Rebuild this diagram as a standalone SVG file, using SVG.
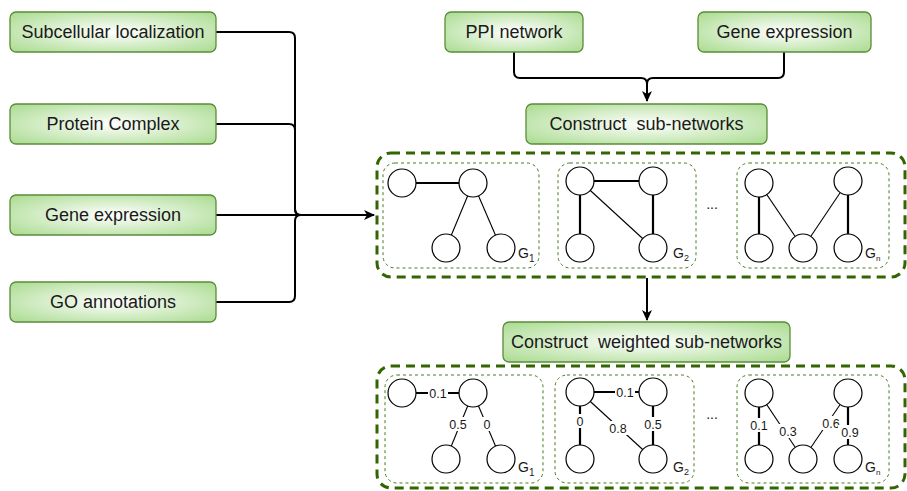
<svg xmlns="http://www.w3.org/2000/svg" width="907" height="491" viewBox="0 0 907 491">
<defs>
<radialGradient id="gf" cx="50%" cy="50%" r="70%">
<stop offset="0%" stop-color="#ffffff"/>
<stop offset="100%" stop-color="#a9db8f"/>
</radialGradient>
<marker id="arr" markerWidth="12" markerHeight="10" refX="10" refY="5" orient="auto" markerUnits="userSpaceOnUse">
<path d="M0,0 L11,5 L0,10 L3,5 Z" fill="#000"/>
</marker>
<style>
.box{fill:url(#gf);stroke:#5b8c3a;stroke-width:1.3}
.lbl{font-family:"Liberation Sans",Arial,sans-serif;font-size:18px;fill:#1a1a1a;text-anchor:middle;white-space:pre}
.outer{fill:none;stroke:#336600;stroke-width:3;stroke-dasharray:9,6}
.inner{fill:none;stroke:#4d7a1f;stroke-width:1;stroke-dasharray:3,3}
.nd{fill:#fff;stroke:#000;stroke-width:1.2}
.thick{stroke:#000;stroke-width:2.2;fill:none}
.thin{stroke:#000;stroke-width:1.1;fill:none}
.con{stroke:#000;stroke-width:2;fill:none}
.g{font-family:"Liberation Sans",Arial,sans-serif;font-size:14px;fill:#1a1a1a}
.w{font-family:"Liberation Sans",Arial,sans-serif;font-size:12.5px;fill:#1a1a1a;text-anchor:middle}
.dots{font-family:"Liberation Sans",Arial,sans-serif;font-size:14px;fill:#1a1a1a;text-anchor:middle}
</style>
</defs>
<rect width="907" height="491" fill="#fff"/>

<g id="connectors">
<path class="con" d="M216,32 H289 Q295,32 295,38 V209 Q295,215 301,215"/>
<path class="con" d="M216,124 H289 Q295,124 295,130 V209 Q295,215 301,215"/>
<path class="con" d="M216,302 H289 Q295,302 295,296 V221 Q295,215 301,215"/>
<path class="con" d="M216,215 H374" stroke-width="2.6" marker-end="url(#arr)"/>
<path class="con" d="M514,52 V72 Q514,78 520,78 H641 Q647,78 647,84 V101" marker-end="url(#arr)"/>
<path class="con" d="M784,52 V72 Q784,78 778,78 H653 Q647,78 647,84"/>
<path class="con" d="M647,278 V320" marker-end="url(#arr)"/>
</g>

<g id="n-subcell"><rect class="box" x="10" y="12" width="206" height="40" rx="6"/><text class="lbl" x="113" y="38">Subcellular localization</text></g>
<g id="n-protein"><rect class="box" x="10" y="104" width="206" height="40" rx="6"/><text class="lbl" x="113" y="130">Protein Complex</text></g>
<g id="n-geneexp-left"><rect class="box" x="10" y="195" width="206" height="40" rx="6"/><text class="lbl" x="113" y="221">Gene expression</text></g>
<g id="n-go"><rect class="box" x="10" y="282" width="206" height="40" rx="6"/><text class="lbl" x="113" y="308">GO annotations</text></g>
<g id="n-ppi"><rect class="box" x="445" y="12" width="138" height="40" rx="6"/><text class="lbl" x="514" y="38">PPI network</text></g>
<g id="n-geneexp-top"><rect class="box" x="698" y="12" width="173" height="40" rx="6"/><text class="lbl" x="784.5" y="38">Gene expression</text></g>
<g id="n-construct"><rect class="box" x="526" y="104" width="241" height="40" rx="6"/><text class="lbl" x="646.5" y="130">Construct  sub-networks</text></g>
<g id="n-weighted"><rect class="box" x="503" y="322" width="287" height="40" rx="6"/><text class="lbl" x="646.5" y="348">Construct  weighted sub-networks</text></g>

<g id="subnetworks">
<rect class="outer" x="377" y="153" width="528" height="124" rx="14"/>
<g id="sub-g1">
<rect class="inner" x="383" y="163" width="156" height="105" rx="12"/>
<line class="thick" x1="402" y1="183" x2="473" y2="183"/>
<line class="thin" x1="473" y1="183" x2="446" y2="248"/>
<line class="thin" x1="473" y1="183" x2="501" y2="248"/>
<circle class="nd" cx="402" cy="183" r="14"/><circle class="nd" cx="473" cy="183" r="14"/>
<circle class="nd" cx="446" cy="248" r="14"/><circle class="nd" cx="501" cy="248" r="14"/>
<text class="g" x="518" y="258">G<tspan font-size="10" dy="4">1</tspan></text>
</g>
<g id="sub-g2">
<rect class="inner" x="558" y="163" width="138" height="105" rx="12"/>
<line class="thick" x1="580" y1="181" x2="653" y2="181"/>
<line class="thick" x1="580" y1="181" x2="580" y2="248"/>
<line class="thick" x1="653" y1="181" x2="653" y2="248"/>
<line class="thin" x1="580" y1="181" x2="653" y2="248"/>
<circle class="nd" cx="580" cy="181" r="14"/><circle class="nd" cx="653" cy="181" r="14"/>
<circle class="nd" cx="580" cy="248" r="14"/><circle class="nd" cx="653" cy="248" r="14"/>
<text class="g" x="673" y="258">G<tspan font-size="9" dy="3">2</tspan></text>
</g>
<text class="dots" x="712" y="209">...</text>
<g id="sub-gn">
<rect class="inner" x="737" y="163" width="152" height="105" rx="12"/>
<line class="thick" x1="759" y1="183" x2="759" y2="248"/>
<line class="thin" x1="759" y1="183" x2="803" y2="248"/>
<line class="thin" x1="848" y1="181" x2="803" y2="248"/>
<line class="thick" x1="848" y1="181" x2="848" y2="248"/>
<circle class="nd" cx="759" cy="183" r="14"/><circle class="nd" cx="848" cy="181" r="14"/>
<circle class="nd" cx="759" cy="248" r="14"/><circle class="nd" cx="803" cy="248" r="14"/><circle class="nd" cx="848" cy="248" r="14"/>
<text class="g" x="865" y="258">G<tspan font-size="8" dy="3">n</tspan></text>
</g>
</g>

<g id="weighted-subnetworks">
<rect class="outer" x="377" y="366" width="528" height="122" rx="14"/>
<g id="wsub-g1">
<rect class="inner" x="385" y="375" width="158" height="108" rx="12"/>
<line class="thick" x1="402" y1="393" x2="473" y2="393"/>
<line class="thin" x1="473" y1="393" x2="446" y2="459"/>
<line class="thin" x1="473" y1="393" x2="501" y2="459"/>
<circle class="nd" cx="402" cy="393" r="14"/><circle class="nd" cx="473" cy="393" r="14"/>
<circle class="nd" cx="446" cy="459" r="14"/><circle class="nd" cx="501" cy="459" r="14"/>
<rect x="428" y="386" width="20" height="14" fill="#fff"/><text class="w" x="438" y="398">0.1</text>
<rect x="448" y="417" width="20" height="14" fill="#fff"/><text class="w" x="458" y="429">0.5</text>
<rect x="481" y="417" width="12" height="14" fill="#fff"/><text class="w" x="487" y="429">0</text>
<text class="g" x="518" y="472">G<tspan font-size="10" dy="4">1</tspan></text>
</g>
<g id="wsub-g2">
<rect class="inner" x="555" y="375" width="139" height="108" rx="12"/>
<line class="thick" x1="580" y1="392" x2="653" y2="392"/>
<line class="thick" x1="580" y1="392" x2="580" y2="459"/>
<line class="thick" x1="653" y1="392" x2="653" y2="459"/>
<line class="thin" x1="580" y1="392" x2="653" y2="459"/>
<circle class="nd" cx="580" cy="392" r="14"/><circle class="nd" cx="653" cy="392" r="14"/>
<circle class="nd" cx="580" cy="459" r="14"/><circle class="nd" cx="653" cy="459" r="14"/>
<rect x="615" y="385" width="20" height="14" fill="#fff"/><text class="w" x="625" y="397">0.1</text>
<rect x="574" y="414" width="12" height="14" fill="#fff"/><text class="w" x="580" y="426">0</text>
<rect x="608" y="421" width="20" height="14" fill="#fff"/><text class="w" x="618" y="433">0.8</text>
<rect x="643" y="417" width="20" height="14" fill="#fff"/><text class="w" x="653" y="429">0.5</text>
<text class="g" x="673" y="472">G<tspan font-size="9" dy="3">2</tspan></text>
</g>
<text class="dots" x="712" y="419">...</text>
<g id="wsub-gn">
<rect class="inner" x="737" y="375" width="152" height="108" rx="12"/>
<line class="thick" x1="759" y1="393" x2="759" y2="459"/>
<line class="thin" x1="759" y1="393" x2="803" y2="459"/>
<line class="thin" x1="848" y1="393" x2="803" y2="459"/>
<line class="thick" x1="848" y1="393" x2="848" y2="459"/>
<circle class="nd" cx="759" cy="393" r="14"/><circle class="nd" cx="848" cy="393" r="14"/>
<circle class="nd" cx="759" cy="459" r="14"/><circle class="nd" cx="803" cy="459" r="14"/><circle class="nd" cx="848" cy="459" r="14"/>
<rect x="749" y="418" width="20" height="14" fill="#fff"/><text class="w" x="759" y="430">0.1</text>
<rect x="778" y="424" width="20" height="14" fill="#fff"/><text class="w" x="788" y="436">0.3</text>
<rect x="821" y="416" width="20" height="14" fill="#fff"/><text class="w" x="831" y="428">0.6</text>
<rect x="838" y="425" width="20" height="14" fill="#fff"/><text class="w" x="850" y="437">0.9</text>
<text class="g" x="865" y="472">G<tspan font-size="8" dy="3">n</tspan></text>
</g>
</g>
</svg>
